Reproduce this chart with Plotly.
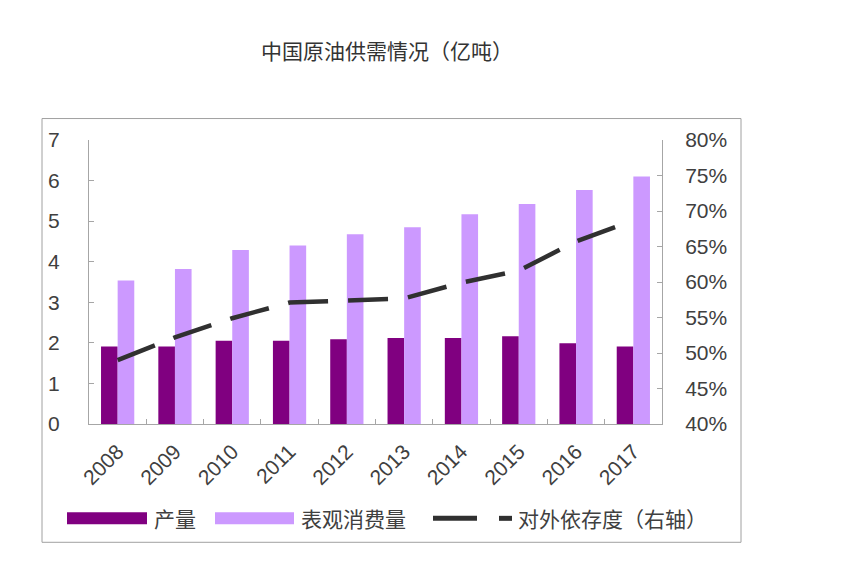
import plotly.graph_objects as go

years = ["2008", "2009", "2010", "2011", "2012", "2013", "2014", "2015", "2016", "2017"]
production = [1.91, 1.91, 2.05, 2.05, 2.09, 2.12, 2.12, 2.16, 1.99, 1.91]
consumption = [3.54, 3.82, 4.29, 4.40, 4.68, 4.85, 5.17, 5.42, 5.77, 6.10]
dependence = [0.490, 0.522, 0.549, 0.571, 0.574, 0.577, 0.599, 0.616, 0.657, 0.687]
y_ticks = [0, 1, 2, 3, 4, 5, 6, 7]
y2_ticks = [0.40, 0.45, 0.50, 0.55, 0.60, 0.65, 0.70, 0.75, 0.80]

title_text = "中国原油供需情况（亿吨）"
name_prod = "产量"
name_cons = "表观消费量"
name_dep = "对外依存度（右轴）"

OFF = 8  # page body margin
W, H = 843 - OFF, 571 - OFF
L, R, T, B = 89, 662, 140, 424.5  # plot area in reference page pixels
DARK = "#800080"
LIGHT = "#CC99FF"
LINEC = "#303030"
AXC = "#A6A6A6"
TXT = "#404040"
FONT = "Liberation Sans, Arial, sans-serif"
CJK = "Noto Sans CJK SC, sans-serif"


def px(x):
    return (x - L) / (R - L)


def py(y):
    return (B - y) / (B - T)


fig = go.Figure()
fig.add_trace(go.Bar(x=years, y=production, name=name_prod, marker=dict(color=DARK, line=dict(width=0)), showlegend=False))
fig.add_trace(go.Bar(x=years, y=consumption, name=name_cons, marker=dict(color=LIGHT, line=dict(width=0)), showlegend=False))
fig.add_trace(go.Scatter(x=years, y=dependence, name=name_dep, mode="lines", yaxis="y2",
                         line=dict(color=LINEC, width=4.5, dash="40px,20px"), showlegend=False))

shapes = [
    dict(type="rect", xref="paper", yref="paper", x0=px(42), x1=px(741), y0=py(543), y1=py(118.5),
         line=dict(color="#A0A0A0", width=1), fillcolor="rgba(0,0,0,0)", layer="below"),
    dict(type="rect", xref="paper", yref="paper", x0=px(67), x1=px(147), y0=py(525), y1=py(513),
         line=dict(width=0), fillcolor=DARK),
    dict(type="rect", xref="paper", yref="paper", x0=px(215), x1=px(294), y0=py(525), y1=py(513),
         line=dict(width=0), fillcolor=LIGHT),
    dict(type="line", xref="paper", yref="paper", x0=px(433), x1=px(477), y0=py(519), y1=py(519),
         line=dict(color=LINEC, width=5)),
    dict(type="line", xref="paper", yref="paper", x0=px(499), x1=px(512), y0=py(519), y1=py(519),
         line=dict(color=LINEC, width=5)),
]

annotations = [
    dict(text=title_text, xref="paper", yref="paper", x=px(387), y=py(50), xanchor="center", yanchor="middle",
         showarrow=False, font=dict(family=CJK, size=21, color="#333333")),
    dict(text=name_prod, xref="paper", yref="paper", x=px(152), y=py(519), xanchor="left", yanchor="middle",
         showarrow=False, font=dict(family=CJK, size=21, color=TXT)),
    dict(text=name_cons, xref="paper", yref="paper", x=px(299), y=py(519), xanchor="left", yanchor="middle",
         showarrow=False, font=dict(family=CJK, size=21, color=TXT)),
    dict(text=name_dep, xref="paper", yref="paper", x=px(516), y=py(519), xanchor="left", yanchor="middle",
         showarrow=False, font=dict(family=CJK, size=21, color=TXT)),
]

fig.update_layout(
    width=W, height=H,
    margin=dict(l=L - OFF, r=W - (R - OFF), t=T - OFF, b=H - (B - OFF), pad=0),
    paper_bgcolor="white", plot_bgcolor="white",
    barmode="group", bargap=0.42, bargroupgap=0,
    showlegend=False,
    shapes=shapes, annotations=annotations,
    xaxis=dict(type="category", showline=True, linecolor=AXC, linewidth=1, showgrid=False,
               ticks="inside", ticklen=5, tickcolor=AXC, tickson="boundaries",
               tickangle=-45, tickfont=dict(family=FONT, size=21, color=TXT), ticklabelstandoff=6),
    yaxis=dict(range=[0, 7], tickvals=y_ticks, showline=True, linecolor=AXC, linewidth=1, showgrid=False,
               zeroline=False, ticks="inside", ticklen=5, tickcolor=AXC,
               tickfont=dict(family=FONT, size=21, color=TXT), ticklabelstandoff=24),
    yaxis2=dict(range=[0.4, 0.8], tickvals=y2_ticks, tickformat=".0%", overlaying="y", side="right",
                showline=True, linecolor=AXC, linewidth=1, showgrid=False, zeroline=False,
                ticks="inside", ticklen=5, tickcolor=AXC,
                tickfont=dict(family=FONT, size=21, color=TXT), ticklabelstandoff=18),
)

fig.write_html("out.html")
